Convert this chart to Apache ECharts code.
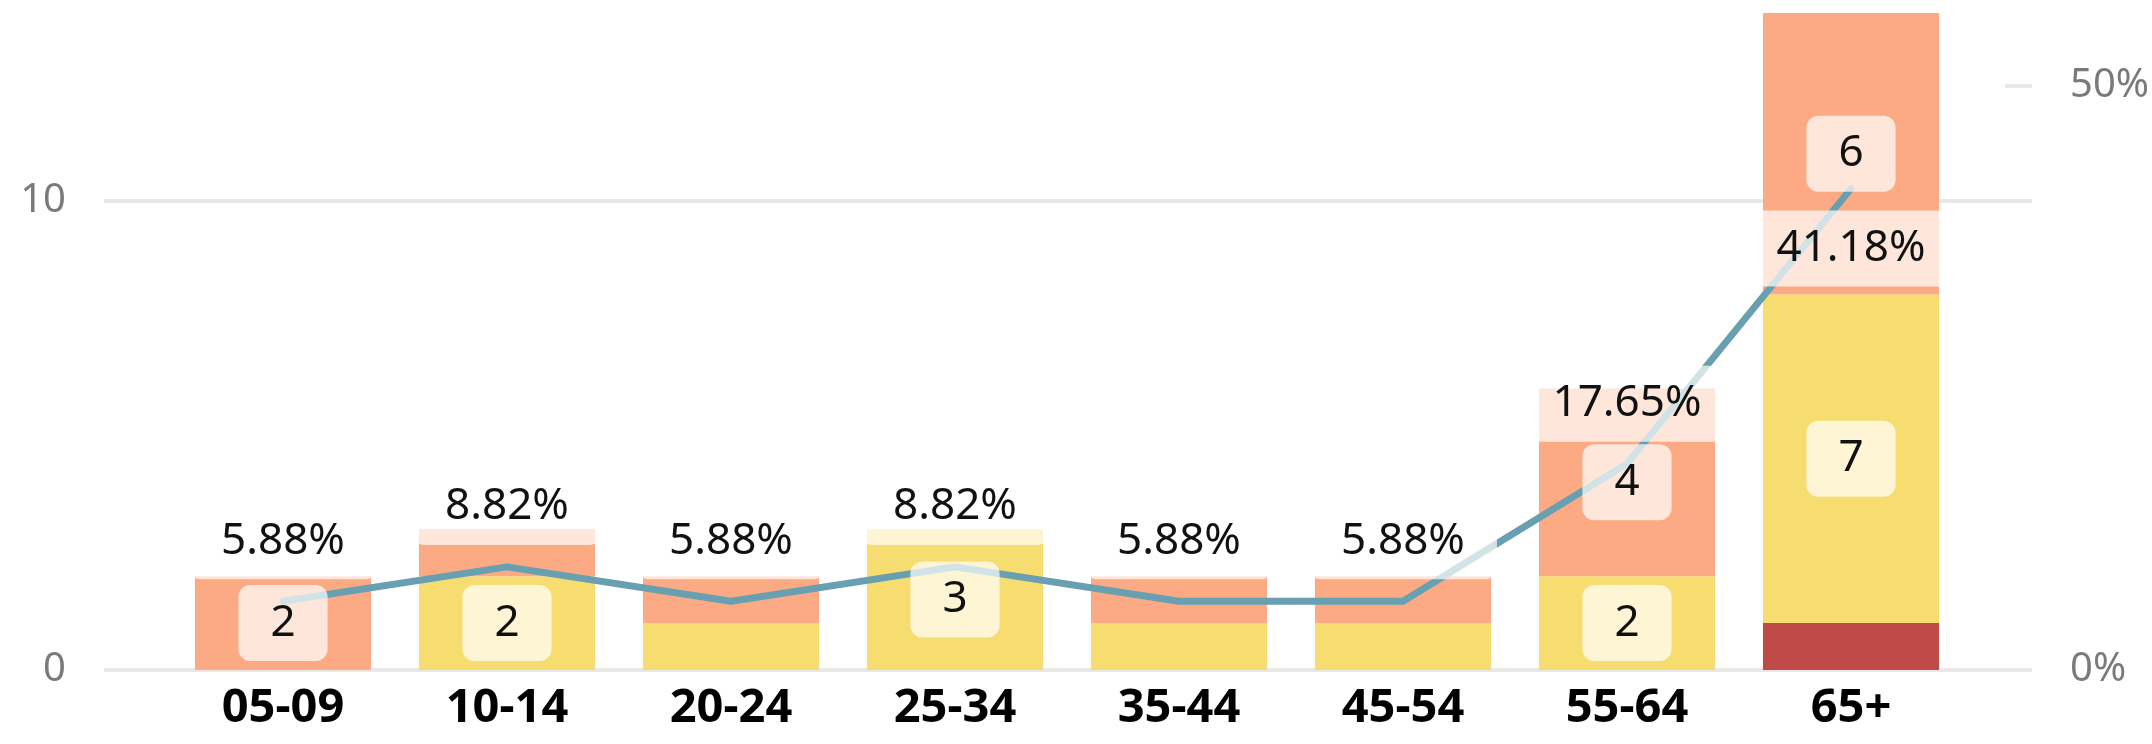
<!DOCTYPE html>
<html>
<head>
<meta charset="utf-8" />
<script src="https://cdn.jsdelivr.net/npm/echarts@6/dist/echarts.min.js"></script>
<title>age groups</title>
<style>
  html, body { margin: 0; padding: 0; background: #fff; }
</style>
</head>
<body>
<div id="main" style="width:2152px;height:744px;"></div>
<script type="text/javascript">
// categories and values
var ageGroups = ['05-09', '10-14', '20-24', '25-34', '35-44', '45-54', '55-64', '65+'];
var redCounts = [0, 0, 0, 0, 0, 0, 0, 1];
var yellowCounts = [0, 2, 1, 3, 1, 1, 2, 7];
var orangeCounts = [2, 1, 1, 0, 1, 1, 4, 6];
var percentShares = [5.88, 8.82, 5.88, 8.82, 5.88, 5.88, 17.65, 41.18];
var countTicks = [0, 10];
var percentTicks = [0, 50];

var boxLabel = {
    color: '#111',
    fontSize: 44,
    lineHeight: 44,
    backgroundColor: 'rgba(255,255,255,0.7)',
    padding: [16, 32],
    borderRadius: 12
};

// visible stacked bars (no labels)
function barSeries(name, values, color) {
    return {
        name: name,
        type: 'bar',
        stack: 'count',
        xAxisIndex: 1,
        yAxisIndex: 2,
        barWidth: '78.6%',
        barGap: '-100%',
        z: 2,
        itemStyle: { color: color },
        data: values
    };
}

// same stack again, invisible, only to carry the value boxes above the line
function labelSeries(name, values) {
    return {
        name: name + ' label',
        type: 'bar',
        stack: 'labels',
        xAxisIndex: 1,
        yAxisIndex: 2,
        barWidth: '78.6%',
        barGap: '-100%',
        z: 5,
        silent: true,
        itemStyle: { color: 'rgba(0,0,0,0)' },
        label: Object.assign({ show: true, position: 'inside' }, boxLabel),
        data: values.map(function (v) {
            return { value: v, label: { show: v >= 2 } };
        })
    };
}

var myChart = echarts.init(document.getElementById('main'));

var option = {
    animation: false,
    textStyle: { fontFamily: 'Noto Sans' },
    grid: [
        { left: 104, right: 118, top: 13, bottom: 74 },
        { left: 171, right: 189, top: 13, bottom: 74 }
    ],
    xAxis: [
        { gridIndex: 0, type: 'value', min: 0, max: 1, show: false },
        {
            gridIndex: 1,
            type: 'category',
            data: ageGroups,
            axisLine: { show: false },
            axisTick: { show: false },
            axisLabel: {
                color: '#000',
                fontWeight: 'bold',
                fontSize: 47,
                margin: 15
            }
        }
    ],
    yAxis: [
        {
            gridIndex: 0,
            type: 'value',
            min: 0,
            max: 14,
            interval: 10,
            axisLine: { show: false },
            axisTick: { show: false },
            axisLabel: {
                customValues: countTicks,
                color: '#7a7a7a',
                fontSize: 40,
                margin: 38
            },
            splitLine: {
                showMaxLine: false,
                lineStyle: { color: '#e8e8e8', width: 4 }
            }
        },
        {
            gridIndex: 0,
            type: 'value',
            position: 'right',
            min: 0,
            max: 56.2,
            axisLine: { show: false },
            axisTick: {
                show: true,
                inside: true,
                length: 27,
                customValues: percentTicks,
                lineStyle: { color: '#e8e8e8', width: 4 }
            },
            axisLabel: {
                customValues: percentTicks,
                formatter: '{value}%',
                color: '#7a7a7a',
                fontSize: 40,
                margin: 38
            },
            splitLine: { show: false }
        },
        { gridIndex: 1, type: 'value', min: 0, max: 14, show: false, splitLine: { show: false } },
        { gridIndex: 1, type: 'value', min: 0, max: 56.2, show: false, splitLine: { show: false } }
    ],
    series: [
        barSeries('A', redCounts, '#c04a48'),
        barSeries('B', yellowCounts, '#f7dc6f'),
        barSeries('C', orangeCounts, '#fcaa84'),
        labelSeries('A', redCounts),
        labelSeries('B', yellowCounts),
        labelSeries('C', orangeCounts),
        {
            name: 'share',
            type: 'line',
            xAxisIndex: 1,
            yAxisIndex: 3,
            z: 3,
            symbol: 'circle',
            symbolSize: 4,
            itemStyle: { color: '#68a0b2' },
            lineStyle: { color: '#68a0b2', width: 7, cap: 'round', join: 'round' },
            label: Object.assign({
                show: true,
                position: 'top',
                distance: 20,
                formatter: function (p) { return p.value.toFixed(2) + '%'; }
            }, boxLabel),
            data: percentShares.map(function (v, i) {
                var item = { value: v };
                if (i === percentShares.length - 1) {
                    item.label = { position: 'bottom' };
                }
                return item;
            })
        }
    ]
};
myChart.setOption(option);
</script>
</body>
</html>
